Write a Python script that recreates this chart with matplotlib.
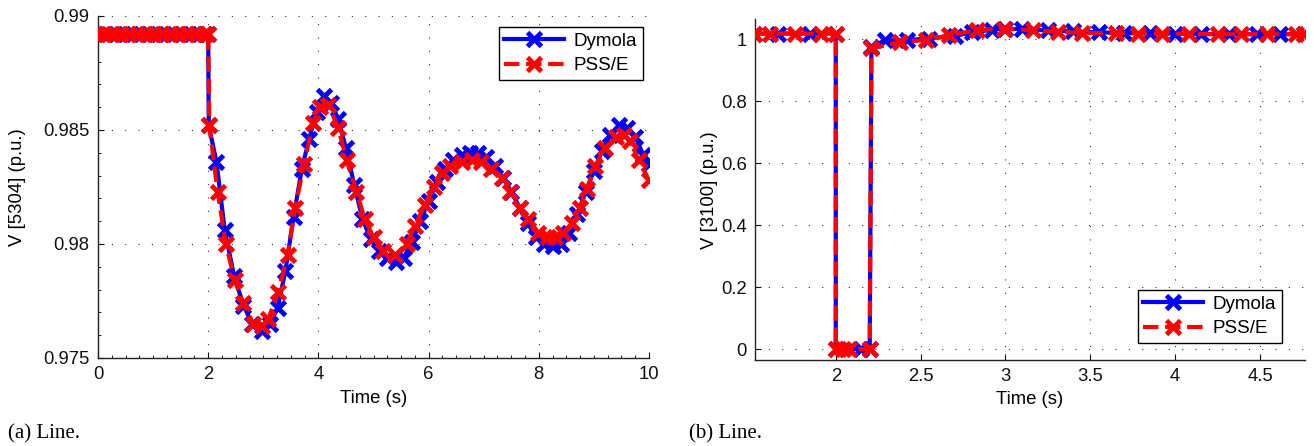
import matplotlib
matplotlib.use("Agg")
import matplotlib.pyplot as plt
from matplotlib.ticker import MultipleLocator, FixedLocator

# ---- (a) bus 5304 voltage ----
t5304_dym = [0, 0.15, 0.3, 0.45, 0.6, 0.75, 0.9, 1.05, 1.2, 1.35, 1.5, 1.65, 1.8, 1.95, 2.0,
             2.01, 2.15, 2.3, 2.47, 2.64, 2.8, 2.97, 3.12, 3.26, 3.4, 3.55, 3.7, 3.83, 3.97,
             4.1, 4.22, 4.36, 4.5, 4.65, 4.8, 4.95, 5.1, 5.25, 5.4, 5.55, 5.7, 5.85, 6.0,
             6.15, 6.3, 6.45, 6.6, 6.75, 6.9, 7.05, 7.2, 7.35, 7.5, 7.65, 7.8, 7.95, 8.1,
             8.25, 8.4, 8.55, 8.7, 8.85, 9.0, 9.15, 9.3, 9.45, 9.6, 9.75, 9.9, 10.0]
v5304_dym = [0.9892] * 15 + [
    0.9852, 0.9836, 0.9806, 0.9786, 0.9773, 0.9765, 0.9762, 0.9765, 0.9772, 0.9788,
    0.9812, 0.9833, 0.9846, 0.9858, 0.9865, 0.9862, 0.9855, 0.9842, 0.9826, 0.9811,
    0.9802, 0.9797, 0.9794, 0.9792, 0.9794, 0.9801, 0.9810, 0.9819, 0.9827, 0.9833,
    0.9837, 0.9839, 0.9840, 0.9840, 0.9838, 0.9834, 0.9829, 0.9823, 0.9816, 0.9809,
    0.9803, 0.9800, 0.9799, 0.9800, 0.9805, 0.9813, 0.9823, 0.9832, 0.9841, 0.9848,
    0.9852, 0.9851, 0.9847, 0.9839, 0.9835]

t5304_pss = [0, 0.12, 0.27, 0.42, 0.57, 0.72, 0.87, 1.02, 1.17, 1.32, 1.47, 1.62, 1.77, 1.92, 2.0,
             2.02, 2.17, 2.32, 2.48, 2.64, 2.82, 2.97, 3.09, 3.27, 3.44, 3.58, 3.74, 3.9,
             4.03, 4.18, 4.36, 4.51, 4.69, 4.84, 5.0, 5.18, 5.39, 5.6, 5.75, 5.93, 6.09,
             6.24, 6.39, 6.6, 6.78, 6.96, 7.14, 7.33, 7.48, 7.66, 7.81, 7.99, 8.17, 8.29,
             8.44, 8.6, 8.75, 8.87, 9.02, 9.2, 9.41, 9.55, 9.66, 9.81, 10.0]
v5304_pss = [0.9892] * 15 + [
    0.9852, 0.9823, 0.9800, 0.9784, 0.9774, 0.9765, 0.9764, 0.9767, 0.9779, 0.9795,
    0.9816, 0.9835, 0.9853, 0.9860, 0.9861, 0.9851, 0.9837, 0.9823, 0.9811, 0.9803,
    0.9797, 0.9795, 0.9800, 0.9808, 0.9817, 0.9825, 0.9831, 0.9834, 0.9836, 0.9837,
    0.9836, 0.9833, 0.9829, 0.9823, 0.9816, 0.9811, 0.9805, 0.9803, 0.9803, 0.9805,
    0.9809, 0.9816, 0.9824, 0.9834, 0.9842, 0.9847, 0.9848, 0.9845, 0.9837, 0.9828]

# ---- (b) bus 3100 voltage ----
t3100_dym = [1.52, 1.66, 1.85, 2.0, 2.0, 2.15, 2.2, 2.21, 2.29, 2.42, 2.55, 2.7, 2.8, 2.92,
             3.0, 3.1, 3.25, 3.4, 3.55, 3.7, 3.85, 4.0, 4.15, 4.32, 4.48, 4.62, 4.76]
v3100_dym = [1.018, 1.018, 1.018, 1.018, 0.0, 0.0, 0.0, 0.975, 0.996, 0.997, 1.002, 1.010,
             1.022, 1.030, 1.034, 1.032, 1.028, 1.025, 1.022, 1.020, 1.019, 1.018, 1.017,
             1.016, 1.016, 1.016, 1.016]

t3100_pss = [1.52, 1.61, 1.76, 1.91, 2.0, 2.0, 2.04, 2.08, 2.2, 2.21, 2.38, 2.53, 2.67, 2.83,
             2.99, 3.16, 3.31, 3.45, 3.65, 3.78, 3.92, 4.08, 4.25, 4.39, 4.54, 4.71, 4.76]
v3100_pss = [1.018, 1.018, 1.018, 1.018, 1.018, 0.0, 0.0, 0.0, 0.0, 0.970, 0.991, 0.997,
             1.013, 1.029, 1.034, 1.029, 1.024, 1.020, 1.019, 1.018, 1.018, 1.017, 1.016,
             1.016, 1.016, 1.016, 1.016]

plt.rcParams['font.family'] = ['Liberation Sans', 'DejaVu Sans']

W, H = 1314, 446
fig = plt.figure(figsize=(W / 100, H / 100), dpi=100)


def px_axes(x0, y0, x1, y1):
    return fig.add_axes([x0 / W, 1 - y1 / H, (x1 - x0) / W, (y1 - y0) / H])


def style(ax):
    for s in ['top', 'right']:
        ax.spines[s].set_visible(False)
    for s in ['left', 'bottom']:
        ax.spines[s].set_color('#222222')
        ax.spines[s].set_linewidth(1.0)
    ax.tick_params(direction='in', length=4, width=0.8, labelsize=13.3, colors='#111111')
    ax.tick_params(axis='x', pad=6)
    ax.tick_params(axis='y', pad=6)
    ax.grid(True, which='major', color='#333333', linewidth=0.8, linestyle=(0, (1, 11)))
    ax.set_axisbelow(True)


def draw(ax, td, vd, tp, vp):
    ax.plot(td, vd, color='blue', lw=3, marker='x', ms=9.5, mew=3.5, label='Dymola', zorder=3)
    ax.plot(tp, vp, color='red', lw=3, ls='--', marker='x', ms=9.5, mew=3.5, label='PSS/E',
            zorder=4)


legend_kw = dict(fontsize=13.5, fancybox=False, framealpha=1, edgecolor='black',
                 numpoints=1, handlelength=3.2, borderaxespad=0, labelspacing=0.4,
                 borderpad=0.3, handletextpad=0.5)

# left panel
ax1 = px_axes(98, 16, 649, 358)
style(ax1)
draw(ax1, t5304_dym, v5304_dym, t5304_pss, v5304_pss)
ax1.set_xlim(0, 10)
ax1.set_ylim(0.975, 0.99)
ax1.xaxis.set_major_locator(MultipleLocator(2))
ax1.xaxis.set_minor_locator(MultipleLocator(0.25))
ax1.yaxis.set_major_locator(FixedLocator([0.975, 0.98, 0.985, 0.99]))
ax1.yaxis.set_minor_locator(MultipleLocator(0.001))
ax1.tick_params(which='minor', direction='in', length=2.5, width=0.6)
ax1.set_yticklabels(['0.975', '0.98', '0.985', '0.99'])
ax1.set_xlabel('Time (s)', fontsize=13.3, labelpad=5)
fig.text(18 / W, 1 - 187 / H, 'V [5304] (p.u.)', rotation=90, ha='center', va='center',
         fontsize=13.3)
leg = ax1.legend(loc='upper right', bbox_to_anchor=(0.989, 0.968), **legend_kw)
leg.get_frame().set_linewidth(1.0)

# right panel
ax2 = px_axes(755, 19, 1305, 360)
style(ax2)
draw(ax2, t3100_dym, v3100_dym, t3100_pss, v3100_pss)
ax2.set_xlim(1.524, 4.765)
ax2.set_ylim(-0.035, 1.065)
ax2.set_xticks([2, 2.5, 3, 3.5, 4, 4.5])
ax2.set_xticklabels(['2', '2.5', '3', '3.5', '4', '4.5'])
ax2.set_yticks([0, 0.2, 0.4, 0.6, 0.8, 1])
ax2.set_yticklabels(['0', '0.2', '0.4', '0.6', '0.8', '1'])
ax2.set_xlabel('Time (s)', fontsize=13.3, labelpad=4)
fig.text(710 / W, 1 - 190 / H, 'V [3100] (p.u.)', rotation=90, ha='center', va='center',
         fontsize=13.3)
leg = ax2.legend(loc='lower right', bbox_to_anchor=(0.958, 0.05), **legend_kw)
leg.get_frame().set_linewidth(1.0)

# captions
fig.text(8 / W, 1 - 434 / H, '(a) Line.', family='Liberation Serif', fontsize=15,
         ha='left', va='center')
fig.text(689 / W, 1 - 434 / H, '(b) Line.', family='Liberation Serif', fontsize=15,
         ha='left', va='center')

fig.savefig('out.png', dpi=100)
